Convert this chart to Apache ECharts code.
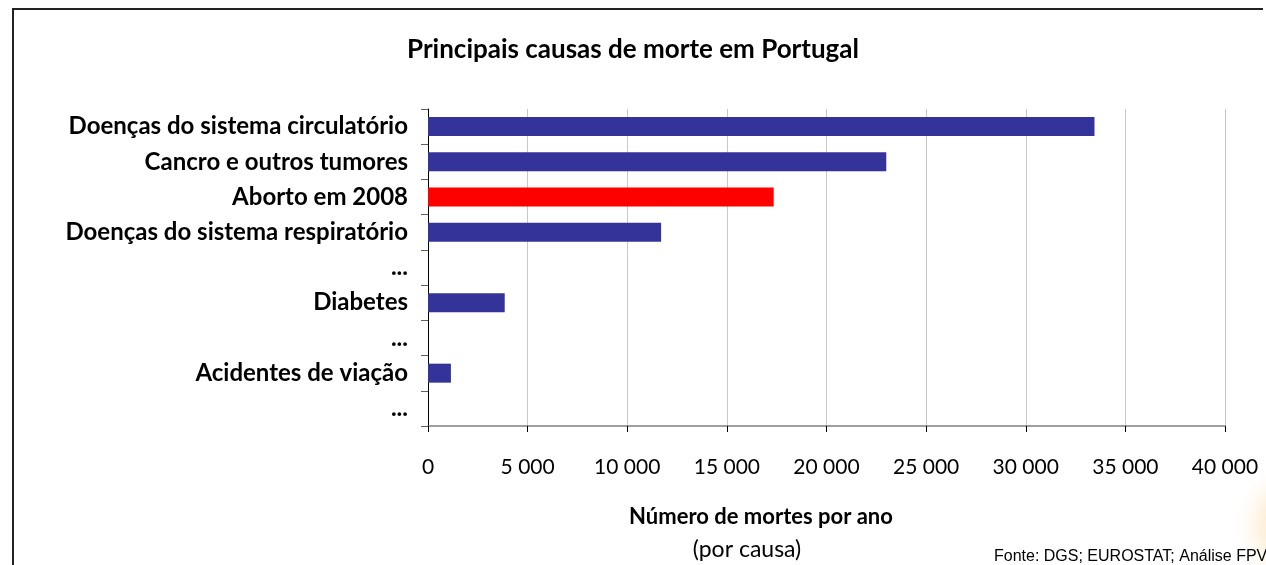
<!DOCTYPE html>
<html>
<head>
<meta charset="utf-8">
<script src="https://cdn.jsdelivr.net/npm/echarts@6/dist/echarts.min.js"></script>
<style>
    html, body { margin: 0; padding: 0; background: #fff; }
    #chart { width: 1266px; height: 565px; }
</style>
</head>
<body>
<div id="chart"></div>
<script>
const chart = echarts.init(document.getElementById("chart"));

// Causes, top to bottom as drawn
const causes = [
    "Doenças do sistema circulatório",
    "Cancro e outros tumores",
    "Aborto em 2008",
    "Doenças do sistema respiratório",
    "...",
    "Diabetes",
    "...",
    "Acidentes de viação",
    "..."
];

// Deaths per year; "-" = no bar
const deaths = [33450, 23000, 17350, 11700, "-", 3850, "-", 1150, "-"];

const highlighted = "Aborto em 2008";

const xMin = 0;
const xMax = 40000;
const xStep = 5000;

const font = "Lato, 'Open Sans', sans-serif";

function formatThousands(n) {
    return String(n).replace(/\B(?=(\d{3})+(?!\d))/g, " ");
}

const option = {
    backgroundColor: "#fff",
    animation: false,
    textStyle: { fontFamily: font, color: "#000" },
    grid: {
        left: 428,
        right: 41,
        top: 109,
        bottom: 139
    },
    xAxis: {
        type: "value",
        min: xMin,
        max: xMax,
        interval: xStep,
        axisLine: { show: true, lineStyle: { color: "#808080", width: 1.5 } },
        axisTick: { show: true, length: 6, lineStyle: { color: "#000" } },
        splitLine: { show: true, lineStyle: { color: "#c8c8c8", width: 1 } },
        axisLabel: {
            margin: 31,
            fontSize: 21,
            fontFamily: font,
            color: "#000",
            formatter: v => formatThousands(v)
        }
    },
    yAxis: {
        type: "category",
        inverse: true,
        data: causes,
        axisLine: { show: true, lineStyle: { color: "#000", width: 1 } },
        axisTick: { show: true, length: 7, lineStyle: { color: "#606060" } },
        axisLabel: {
            margin: 20,
            fontSize: 24,
            fontWeight: "bold",
            fontFamily: font,
            color: "#000"
        }
    },
    series: [
        {
            type: "bar",
            barWidth: 19,
            data: deaths,
            itemStyle: {
                color: p => (causes[p.dataIndex] === highlighted ? "#ff0000" : "#333399")
            }
        }
    ],
    graphic: [
        {
            // frame: top and left edges only are visible in the crop
            type: "polyline",
            shape: { points: [[13, 565], [13, 9], [1263, 9]] },
            style: { stroke: "#222", lineWidth: 2, fill: null },
            silent: true
        },
        {
            // faint orange glow at the right edge
            type: "circle",
            shape: { cx: 1300, cy: 525, r: 70 },
            style: {
                fill: new echarts.graphic.RadialGradient(0.5, 0.5, 0.5, [
                    { offset: 0, color: "rgba(240,160,40,0.5)" },
                    { offset: 0.6, color: "rgba(250,200,120,0.2)" },
                    { offset: 1, color: "rgba(255,255,255,0)" }
                ])
            },
            silent: true
        },
        {
            type: "text",
            x: 633,
            y: 50,
            style: {
                text: "Principais causas de morte em Portugal",
                font: "bold 26px " + font,
                fill: "#000",
                align: "center",
                verticalAlign: "middle"
            }
        },
        {
            type: "text",
            x: 761,
            y: 517,
            style: {
                text: "Número de mortes por ano",
                font: "bold 22px " + font,
                fill: "#000",
                align: "center",
                verticalAlign: "middle"
            }
        },
        {
            type: "text",
            x: 747,
            y: 550,
            style: {
                text: "(por causa)",
                font: "23px " + font,
                fill: "#000",
                align: "center",
                verticalAlign: "middle"
            }
        },
        {
            type: "text",
            x: 994,
            y: 557,
            style: {
                text: "Fonte: DGS; EUROSTAT; Análise FPV",
                font: "16px 'Liberation Sans', Arial, sans-serif",
                fill: "#000",
                align: "left",
                verticalAlign: "middle"
            }
        }
    ]
};

chart.setOption(option);

window.addEventListener("resize", () => chart.resize());
</script>
</body>
</html>
